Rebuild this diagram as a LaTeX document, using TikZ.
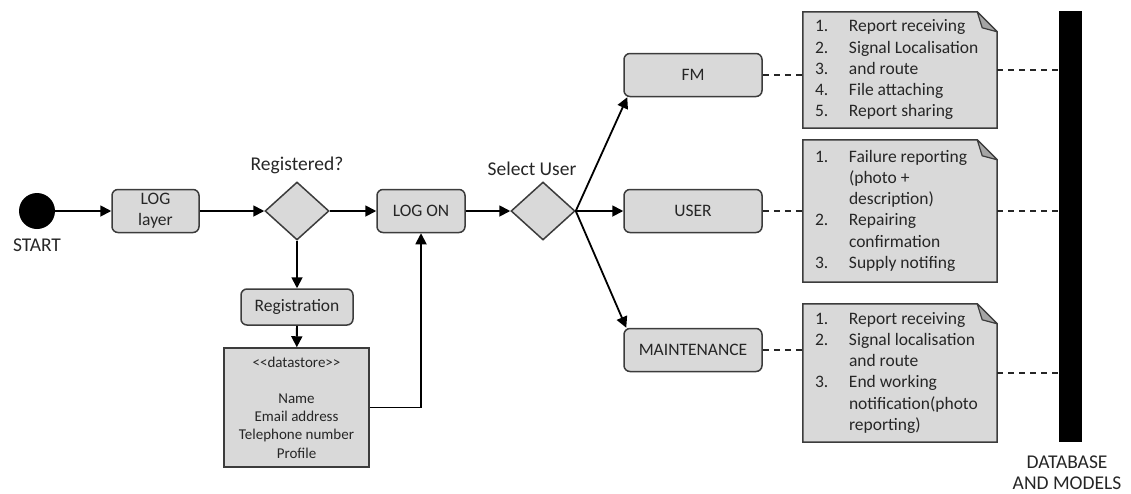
\documentclass[tikz,border=0pt]{standalone}
\usepackage{fontspec}
\setmainfont{Carlito}
\usetikzlibrary{arrows.meta,shapes.geometric,backgrounds}
\definecolor{boxfill}{RGB}{217,217,217}
\definecolor{foldfill}{RGB}{165,165,165}
\definecolor{edge}{RGB}{60,60,60}
\definecolor{ink}{RGB}{38,38,38}
\tikzset{
  act/.style={draw=edge, fill=boxfill, rounded corners=6pt, line width=1.5pt, text=ink, font=\fontsize{17.5}{21}\selectfont, align=center, inner sep=0pt, minimum height=43pt},
  choice/.style={diamond, draw=edge, fill=boxfill, line width=1.5pt, minimum width=64pt, minimum height=58pt, inner sep=0pt},
  flow/.style={-{Triangle[length=11pt,width=11pt]}, line width=1.8pt, draw=black},
  link/.style={dash pattern=on 6pt off 5pt, line width=1.6pt, draw=ink},
  notetext/.style={inner sep=0pt, text=ink, font=\fontsize{17.5}{21.2}\selectfont, minimum width=194pt},
  lbl/.style={text=ink, font=\fontsize{19.5}{21}\selectfont, align=center, inner sep=0pt}
}
\newcommand{\noterows}[1]{\begin{tabular}{@{\hspace{12pt}}p{34pt}@{}p{148pt}@{}}#1\end{tabular}}

\begin{document}
\begin{tikzpicture}[x=1pt,y=-1pt]
    \useasboundingbox (0,0) rectangle (1131,493);

    \node[circle, fill=black, minimum size=36pt, inner sep=0pt] (start) at (37,211) {};
    \node[lbl] (startlbl) at (37,245) {START};
    \node[act, minimum width=87pt] (loglayer) at (155.5,211) {LOG\\layer};
    \node[choice] (reg) at (297,211) {};
    \node[lbl] (reglbl) at (297,165) {Registered?};
    \node[act, minimum width=112pt, minimum height=36pt] (registration) at (297,307) {Registration};
    \node[draw=edge, fill=boxfill, line width=1.5pt, minimum width=145pt, minimum height=119pt, inner sep=0pt, text=ink, font=\fontsize{15}{18.2}\selectfont, align=center] (store) at (296.5,407.5)
        {<{}<datastore>{}>\\[18.2pt]Name\\Email address\\Telephone number\\Profile};
    \node[act, minimum width=88pt] (logon) at (421,211) {LOG ON};
    \node[choice] (sel) at (543,211) {};
    \node[lbl] (sellbl) at (532,169) {Select User};

    \node[act, minimum width=138pt] (fm) at (693,75) {FM};
    \node[act, minimum width=138pt] (user) at (693,211) {USER};
    \node[act, minimum width=138pt] (maint) at (693,350) {MAINTENANCE};

    \node[notetext, minimum height=116pt] (fmnote) at (900,70) {\noterows{
        1. & Report receiving\\ 2. & Signal Localisation\\ 3. & and route\\ 4. & File attaching\\ 5. & Report sharing}};
    \node[notetext, minimum height=142pt] (usernote) at (900,211) {\noterows{
        1. & Failure reporting\\ & (photo +\\ & description)\\ 2. & Repairing\\ & confirmation\\ 3. & Supply notifing}};
    \node[notetext, minimum height=138pt] (mtnote) at (900,373) {\noterows{
        1. & Report receiving\\ 2. & Signal localisation\\ & and route\\ 3. & End working\\ & notification(photo\\ & reporting)}};

    \node[fill=black, minimum width=23pt, minimum height=431pt, inner sep=0pt] (db) at (1070.5,226.5) {};
    \node[lbl] (dblbl) at (1067,472.5) {DATABASE\\AND MODELS};

    \begin{scope}[on background layer]
        \foreach \n in {fmnote,usernote,mtnote} {
            \draw[draw=edge, fill=boxfill, line width=1.5pt] (\n.south west) -- (\n.north west) -- ([xshift=-20pt]\n.north east) -- ([yshift=-20pt]\n.north east) -- (\n.south east) -- cycle; % Note.
            \draw[draw=edge, fill=foldfill, line width=1.2pt, line join=round] ([xshift=-20pt]\n.north east) -- ([xshift=-15pt,yshift=-16pt]\n.north east) -- ([yshift=-20pt]\n.north east) -- cycle;
        }
    \end{scope}

    \draw[flow] (start) -- (loglayer);
    \draw[flow] (loglayer) -- (reg);
    \draw[flow] (reg) -- (logon);
    \draw[flow] (reg) -- (registration);
    \draw[flow] (registration) -- (store);
    \draw[flow] (store.east) -| (logon.south);
    \draw[flow] (logon) -- (sel);
    \draw[flow] (sel.east) -- ([xshift=4pt]fm.south west);
    \draw[flow] (sel.east) -- (user);
    \draw[flow] (sel.east) -- ([xshift=3pt]maint.north west);

    \draw[link] (fm.east) -- (fm.east -| fmnote.west);
    \draw[link] (user.east) -- (user.east -| usernote.west);
    \draw[link] (maint.east) -- (maint.east -| mtnote.west);
    \draw[link] (fmnote.east) -- (fmnote.east -| db.west);
    \draw[link] (usernote.east) -- (usernote.east -| db.west);
    \draw[link] (mtnote.east) -- (mtnote.east -| db.west);
\end{tikzpicture}
\end{document}
